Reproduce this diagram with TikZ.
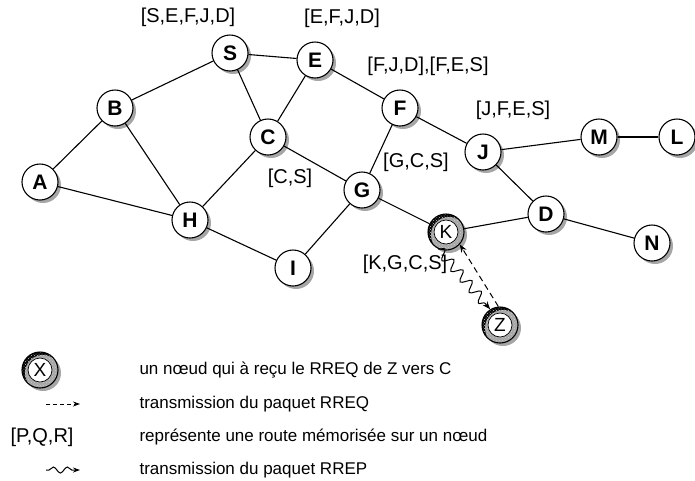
\documentclass[tikz,border=0pt]{standalone}
\usepackage{fontspec}
\setmainfont{Liberation Sans}
\usetikzlibrary{shadows,patterns,arrows.meta,decorations.pathmorphing}

\begin{document}
\begin{tikzpicture}[x=1pt,y=-1pt,
  every node/.style={font=\fontsize{17}{19}\selectfont},
  station/.style={circle, draw, line width=1.1pt, fill=white, minimum size=36pt, inner sep=0pt,
    font=\fontsize{21}{23}\selectfont\bfseries,
    drop shadow={shadow xshift=3pt, shadow yshift=-3pt, fill=black!35, opacity=1}},
  reached/.style={circle, draw, line width=1.1pt, minimum size=36pt, inner sep=0pt,
    font=\fontsize{19}{21}\selectfont,
    preaction={fill=black}, pattern=crosshatch dots, pattern color=white!80!black,
    drop shadow={shadow xshift=3pt, shadow yshift=-3pt, fill=black!35, opacity=1},
    path picture={\draw[fill=white, line width=0.7pt] (path picture bounding box.center) circle (12pt);}},
  route/.style={inner sep=1pt, font=\fontsize{20}{22}\selectfont},
  link/.style={line width=1.1pt},
  rreq/.style={line width=1pt, dash pattern=on 6pt off 4pt, -{Stealth[length=8pt,width=6pt]}},
  rrep/.style={line width=1pt, decorate,
    decoration={snake, amplitude=5pt, segment length=14pt, post length=7pt},
    -{Stealth[length=8pt,width=6pt]}}]
  \useasboundingbox (0,0) rectangle (695,480);

  % le reseau
  \node[station] (A) at (40,182) {A};
  \node[station] (B) at (115,108) {B};
  \node[station] (S) at (230,53) {S};
  \node[station] (E) at (315,60) {E};
  \node[station] (C) at (268,137) {C};
  \node[station] (F) at (400,108) {F};
  \node[station] (J) at (483,152) {J};
  \node[station] (M) at (599,137) {M};
  \node[station] (L) at (677,137) {L};
  \node[station] (G) at (362,190) {G};
  \node[station] (H) at (190,220) {H};
  \node[station] (I) at (293,268) {I};
  \node[station] (D) at (546,214) {D};
  \node[station] (N) at (652,243) {N};
  \node[reached] (K) at (446,232) {K};
  \node[reached] (Z) at (500,325) {Z};

  \foreach \u/\v in {A/B, A/H, B/S, B/H, S/E, S/C, E/C, E/F, C/H, C/G, F/G,
                     F/J, J/M, M/L, J/D, G/K, K/D, D/N, H/I, I/G}
    \draw[link] (\u) -- (\v);

  % RREQ et RREP entre K et Z
  \draw[rreq] (Z.95) -- (K.-42);
  \draw[rrep] (K.-115) -- (Z.122);

  % routes memorisees
  \node[route] (rS) at (188,17) {[S,E,F,J,D]};
  \node[route] (rE) at (342,18) {[E,F,J,D]};
  \node[route] (rF) at (428,66) {[F,J,D],[F,E,S]};
  \node[route] (rJ) at (513,110) {[J,F,E,S]};
  \node[route] (rG) at (416,162) {[G,C,S]};
  \node[route] (rC) at (290,178) {[C,S]};
  \node[route] (rK) at (405,264) {[K,G,C,S]};

  % legende
  \node[reached] (X) at (40,370) {X};
  \node[anchor=west] (tX) at (136,370) {un nœud qui à reçu le RREQ de Z vers C};
  \coordinate (q1) at (46,404);
  \coordinate (q2) at (80,404);
  \draw[rreq, dash pattern=on 4pt off 3pt, -{Stealth[length=7pt,width=5pt]}] (q1) -- (q2);
  \node[anchor=west] (tQ) at (136,404) {transmission du paquet RREQ};
  \node[route] (PQR) at (42,437) {[P,Q,R]};
  \node[anchor=west] (tR) at (136,437) {représente une route mémorisée sur un nœud};
  \coordinate (p1) at (46,470);
  \coordinate (p2) at (80,470);
  \draw[line width=1pt, decorate, decoration={snake, amplitude=3pt, segment length=14pt,
    pre length=3pt, post length=7pt}, -{Stealth[length=7pt,width=5pt]}] (p1) -- (p2);
  \node[anchor=west] (tP) at (136,470) {transmission du paquet RREP};
\end{tikzpicture}
\end{document}
